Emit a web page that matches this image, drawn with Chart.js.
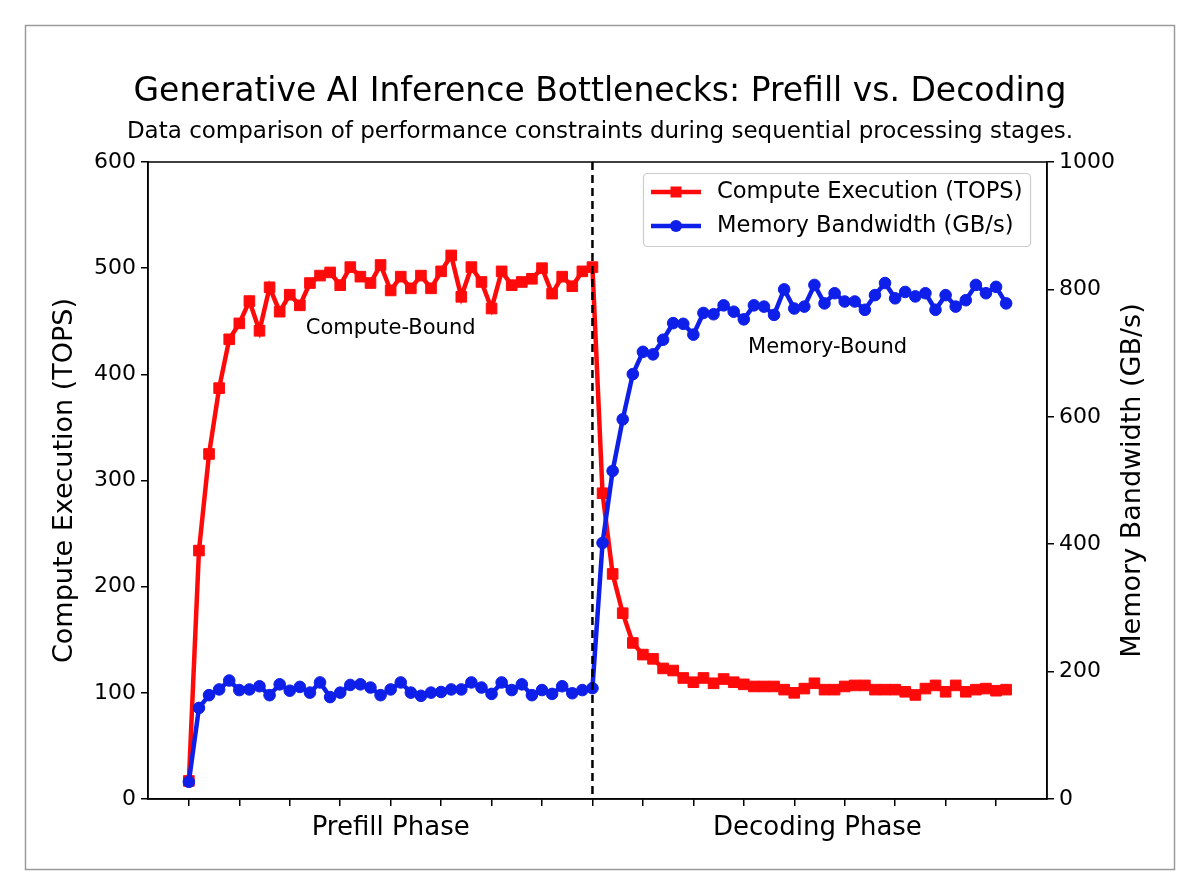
<!DOCTYPE html>
<html><head><meta charset="utf-8">
<script src="https://cdn.jsdelivr.net/npm/chart.js@4.4.1/dist/chart.umd.min.js"></script>
<style>html,body{margin:0;padding:0;background:#fff;}canvas{display:block;}</style>
</head><body>
<canvas id="c" width="1200" height="896"></canvas>
<script>
const titleText = 'Generative AI Inference Bottlenecks: Prefill vs. Decoding';
const subtitleText = 'Data comparison of performance constraints during sequential processing stages.';
const computeLabel = 'Compute Execution (TOPS)';
const memoryLabel = 'Memory Bandwidth (GB/s)';

// processing steps (x positions)
const steps = [0,1,2,3,4,5,6,7,8,9,10,11,12,13,14,15,16,17,18,19,20,21,22,23,24,25,26,27,28,29,30,31,32,33,34,35,36,37,38,39,40,
  41,42,43,44,45,46,47,48,49,50,51,52,53,54,55,56,57,58,59,60,61,62,63,64,65,66,67,68,69,70,71,72,73,74,75,76,77,78,79,80,81];

const computeTOPS = [17,234,325,387,433,448,469,441,482,459,475,465,486,493,496,484,501,492,486,503,
  479,492,481,493,481,497,512,473,501,487,462,497,484,487,490,500,476,492,483,497,501,
  288,212,175,147,136,132,123,121,114,110,114,109,113,110,108,106,106,106,103,100,
  104,109,103,103,106,107,107,103,103,103,101,98,104,107,101,107,101,103,104,102,103];

const memoryGBs = [27,143,163,172,186,171,172,177,163,180,170,176,167,183,160,167,179,180,175,163,
  172,183,167,162,167,168,172,172,183,175,165,183,171,180,163,171,165,177,166,171,174,
  402,515,596,667,702,698,721,747,746,729,763,761,775,765,753,775,773,760,800,770,
  773,807,778,794,781,781,768,791,810,786,796,789,794,768,791,773,783,807,794,804,778];

const phaseBoundary = 40;
const phaseLabels = ['Prefill Phase', 'Decoding Phase'];
const phaseLabelSteps = [20, 62.3];
const noteTexts = ['Compute-Bound', 'Memory-Bound'];
const noteSteps = [20, 63.3];
const noteValues = [443, 708];          // first on TOPS axis, second on GB/s axis
const noteAxes = ['y', 'y1'];
const xTickSteps = [0,5,10,15,20,25,30,35,40,45,50,55,60,65,70,75,80];
const leftTicks = [0,100,200,300,400,500,600];
const rightTicks = [0,200,400,600,800,1000];

const FONT = "'DejaVu Sans', 'Liberation Sans', sans-serif";
const RED = '#ff0a0a';
const BLUE = '#0d1fe8';

const decorPlugin = {
  id: 'decor',
  beforeDraw(chart) {
    const ctx = chart.ctx;
    ctx.save();
    ctx.fillStyle = '#ffffff';
    ctx.fillRect(0, 0, chart.width, chart.height);
    ctx.strokeStyle = '#9a9a9a';
    ctx.lineWidth = 1.5;
    ctx.strokeRect(25.5, 25.5, 1149, 844);
    ctx.restore();
  },
  afterDatasetsDraw(chart) {
    const ctx = chart.ctx;
    const a = chart.chartArea;
    const xs = chart.scales.x;
    ctx.save();
    const bx = xs.getPixelForValue(phaseBoundary);
    ctx.strokeStyle = '#000';
    ctx.lineWidth = 2.5;
    ctx.setLineDash([8, 5]);
    ctx.beginPath();
    ctx.moveTo(bx, a.top);
    ctx.lineTo(bx, a.bottom);
    ctx.stroke();
    ctx.setLineDash([]);
    ctx.restore();
  },
  afterDraw(chart) {
    const ctx = chart.ctx;
    const a = chart.chartArea;
    const xs = chart.scales.x;
    ctx.save();
    ctx.strokeStyle = '#000';
    ctx.lineWidth = 1.5;
    ctx.strokeRect(a.left, a.top, a.right - a.left, a.bottom - a.top);

    ctx.fillStyle = '#000';
    ctx.textAlign = 'center';
    ctx.textBaseline = 'middle';
    ctx.font = '33px ' + FONT;
    ctx.fillText(titleText, 600, 92);
    ctx.font = '23px ' + FONT;
    ctx.fillText(subtitleText, 600, 132);

    ctx.font = '21px ' + FONT;
    noteTexts.forEach((t, i) => {
      const px = xs.getPixelForValue(noteSteps[i]);
      const py = chart.scales[noteAxes[i]].getPixelForValue(noteValues[i]);
      ctx.fillText(t, px, py);
    });

    ctx.font = '26px ' + FONT;
    phaseLabels.forEach((t, i) => {
      ctx.fillText(t, xs.getPixelForValue(phaseLabelSteps[i]), 828);
    });

    ctx.font = '27px ' + FONT;
    const midY = (a.top + a.bottom) / 2;
    ctx.save();
    ctx.translate(65, midY);
    ctx.rotate(-Math.PI / 2);
    ctx.fillText(computeLabel, 0, 0);
    ctx.restore();
    ctx.save();
    ctx.translate(1133, midY);
    ctx.rotate(-Math.PI / 2);
    ctx.fillText(memoryLabel, 0, 0);
    ctx.restore();

    const lx = 643.5, ly = 173.5, lw = 387, lh = 73;
    ctx.fillStyle = 'rgba(255,255,255,0.85)';
    ctx.strokeStyle = '#cccccc';
    ctx.lineWidth = 1.2;
    ctx.beginPath();
    ctx.roundRect(lx, ly, lw, lh, 4);
    ctx.fill();
    ctx.stroke();
    const rows = [192, 226];
    chart.data.datasets.forEach((ds, i) => {
      const y = rows[i];
      ctx.strokeStyle = ds.borderColor;
      ctx.lineWidth = 4.5;
      ctx.beginPath();
      ctx.moveTo(651, y);
      ctx.lineTo(701, y);
      ctx.stroke();
      ctx.fillStyle = ds.borderColor;
      if (ds.pointStyle === 'rect') {
        ctx.fillRect(670.5, y - 5.5, 11, 11);
      } else {
        ctx.beginPath();
        ctx.arc(676, y, 6, 0, Math.PI * 2);
        ctx.fill();
      }
      ctx.fillStyle = '#000';
      ctx.textAlign = 'left';
      ctx.font = '22.6px ' + FONT;
      ctx.fillText(ds.label, 717, y);
    });
    ctx.restore();
  }
};

const tickFont = { family: FONT, size: 22 };
const plainTick = v => String(v);

new Chart(document.getElementById('c'), {
  type: 'line',
  data: {
    datasets: [
      {
        label: computeLabel,
        data: steps.map((s, i) => ({ x: s, y: computeTOPS[i] })),
        yAxisID: 'y',
        borderColor: RED,
        backgroundColor: RED,
        borderWidth: 4.5,
        pointStyle: 'rect',
        pointRadius: 7.5,
        pointBorderWidth: 1,
        pointBackgroundColor: RED,
        pointBorderColor: RED,
        tension: 0,
        order: 2
      },
      {
        label: memoryLabel,
        data: steps.map((s, i) => ({ x: s, y: memoryGBs[i] })),
        yAxisID: 'y1',
        borderColor: BLUE,
        backgroundColor: BLUE,
        borderWidth: 4.5,
        pointStyle: 'circle',
        pointRadius: 5.8,
        pointBorderWidth: 1,
        pointBackgroundColor: BLUE,
        pointBorderColor: BLUE,
        tension: 0,
        order: 1
      }
    ]
  },
  options: {
    responsive: false,
    animation: false,
    devicePixelRatio: 1,
    layout: { padding: { left: 0, right: 0, top: 162, bottom: 0 } },
    plugins: { legend: { display: false }, title: { display: false }, tooltip: { enabled: false } },
    scales: {
      x: {
        type: 'linear',
        min: -4.05, max: 85.05,
        afterBuildTicks: s => { s.ticks = xTickSteps.map(v => ({ value: v })); },
        ticks: { callback: () => '', font: tickFont },
        grid: { drawOnChartArea: false, drawTicks: true, tickLength: 7, color: '#000', lineWidth: 1.5 },
        border: { display: true, color: '#000', width: 1.5 },
        afterFit: s => { s.height = 97; }
      },
      y: {
        position: 'left',
        min: 0, max: 600,
        afterBuildTicks: s => { s.ticks = leftTicks.map(v => ({ value: v })); },
        ticks: { font: tickFont, color: '#000', padding: 5, callback: plainTick },
        grid: { drawOnChartArea: false, drawTicks: true, tickLength: 7, color: '#000', lineWidth: 1.5 },
        border: { display: true, color: '#000', width: 1.5 },
        afterFit: s => { s.width = 148; }
      },
      y1: {
        position: 'right',
        min: 0, max: 1000,
        afterBuildTicks: s => { s.ticks = rightTicks.map(v => ({ value: v })); },
        ticks: { font: tickFont, color: '#000', padding: 5, callback: plainTick },
        grid: { drawOnChartArea: false, drawTicks: true, tickLength: 7, color: '#000', lineWidth: 1.5 },
        border: { display: true, color: '#000', width: 1.5 },
        afterFit: s => { s.width = 153; }
      }
    }
  },
  plugins: [decorPlugin]
});
</script>
</body></html>
